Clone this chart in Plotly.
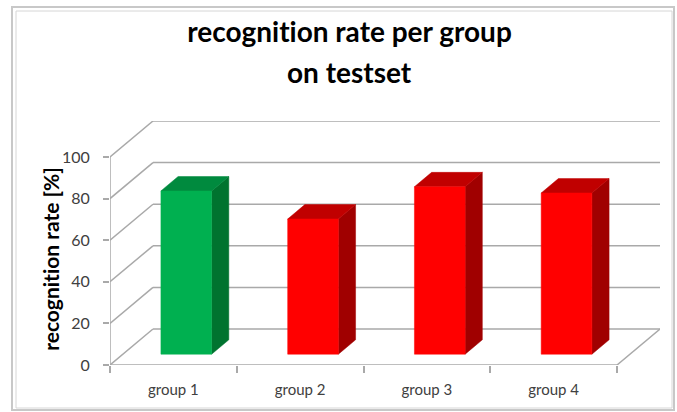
import plotly.graph_objects as go

# ---- data ----
categories = ["group 1", "group 2", "group 3", "group 4"]
values = [78.5, 65.0, 80.5, 77.5]
y_ticks = [0, 20, 40, 60, 80, 100]
title_lines = ["recognition rate per group", "on testset"]
y_title = "recognition rate [%]"

# ---- styling / 3D look ----
front_cols = ["#00b050", "#ff0000", "#ff0000", "#ff0000"]
top_cols = ["#008a3e", "#c00000", "#c00000", "#c00000"]
side_cols = ["#00732f", "#a00000", "#a00000", "#a00000"]
GRID = "#a9a9a9"
FONT = "Lato"

DX = 0.339   # depth offset in category units
DY = 17.3    # depth offset in value units
F0 = 0.30    # front of bars (depth fraction)
DEP = 0.40   # bar depth (fraction)
BW = 0.40    # bar width (category units)
VMAX = 100

W, H = 677, 412
ML, MR, MT, MB = 110, 17, 121, 47
PW, PH = W - ML - MR, H - MT - MB


def px(x):
    return (x - ML) / PW


def py(y):
    return (H - MB - y) / PH


fig = go.Figure()


def seg(x0, y0, x1, y1, color=GRID, width=1.5):
    fig.add_trace(go.Scatter(x=[x0, x1], y=[y0, y1], mode="lines",
                             line=dict(color=color, width=width),
                             hoverinfo="skip", showlegend=False))


def poly(xs, ys, color):
    fig.add_trace(go.Scatter(x=xs + [xs[0]], y=ys + [ys[0]], mode="lines",
                             fill="toself", fillcolor=color,
                             line=dict(color=color, width=0.5),
                             hoverinfo="skip", showlegend=False))


n = len(categories)
# back wall gridlines and left wall diagonals
for v in y_ticks:
    seg(DX, v + DY, n + DX, v + DY)
    seg(0, v, DX, v + DY)
# front axis and floor edges
seg(0, 0, 0, VMAX)
seg(0, 0, n, 0)
seg(n, 0, n + DX, DY)

# bars
for i, (val, fc, tc, sc) in enumerate(zip(values, front_cols, top_cols, side_cols)):
    xc = i + 0.5 + F0 * DX
    x0, x1 = xc - BW / 2, xc + BW / 2
    y0 = F0 * DY
    y1 = y0 + val
    ddx, ddy = DEP * DX, DEP * DY
    poly([x1, x1 + ddx, x1 + ddx, x1], [y0, y0 + ddy, y1 + ddy, y1], sc)
    poly([x0, x1, x1 + ddx, x0 + ddx], [y1, y1, y1 + ddy, y1 + ddy], tc)
    poly([x0, x1, x1, x0], [y0, y0, y1, y1], fc)

fig.update_layout(
    width=W, height=H,
    margin=dict(l=ML, r=MR, t=MT, b=MB),
    paper_bgcolor="white", plot_bgcolor="white",
    font=dict(family=FONT, color="#404040"),
    xaxis=dict(range=[0, n + DX], showgrid=False, zeroline=False, showline=False,
               tickvals=[i + 0.5 for i in range(n)], ticktext=categories,
               ticks="", tickfont=dict(size=15, color="#404040"),
               ticklabelstandoff=14,
               minor=dict(tickvals=list(range(n + 1)), ticks="outside",
                          ticklen=7, tickcolor=GRID, tickwidth=1.5),
               fixedrange=True),
    yaxis=dict(range=[0, VMAX + DY], showgrid=False, zeroline=False, showline=False,
               tickvals=y_ticks, ticks="outside", ticklen=6, tickcolor=GRID,
               tickwidth=1.5, tickfont=dict(size=16, color="#404040"),
               ticklabelstandoff=10, fixedrange=True),
    showlegend=False,
)

fig.add_annotation(text=title_lines[0], x=px(349), y=py(31), xref="paper", yref="paper",
                   showarrow=False, xanchor="center", yanchor="middle",
                   font=dict(family=FONT, size=28, color="black", weight="bold"))
fig.add_annotation(text=title_lines[1], x=px(349), y=py(72), xref="paper", yref="paper",
                   showarrow=False, xanchor="center", yanchor="middle",
                   font=dict(family=FONT, size=28, color="black", weight="bold"))
fig.add_annotation(text=y_title, x=px(50), y=py(259), xref="paper", yref="paper",
                   showarrow=False, xanchor="center", yanchor="middle", textangle=-90,
                   font=dict(family=FONT, size=21, color="black", weight="bold"))

# chart frame
fig.add_shape(type="rect", xref="paper", yref="paper",
              x0=px(12), x1=px(674), y0=py(410), y1=py(7),
              line=dict(color="#c8c8c8", width=2))
fig.add_shape(type="rect", xref="paper", yref="paper",
              x0=px(16), x1=px(672), y0=py(408), y1=py(11),
              line=dict(color="#d6d6d6", width=1))

post = (
    "document.body.style.margin='0';"
    "document.body.style.overflow='hidden';"
    "var s=document.createElement('style');"
    "s.textContent='text{font-variant-ligatures:none !important;font-feature-settings:\"liga\" 0, \"dlig\" 0 !important;}';"
    "document.head.appendChild(s);"
)
fig.write_html("out.html", config={"displayModeBar": False}, post_script=post)
